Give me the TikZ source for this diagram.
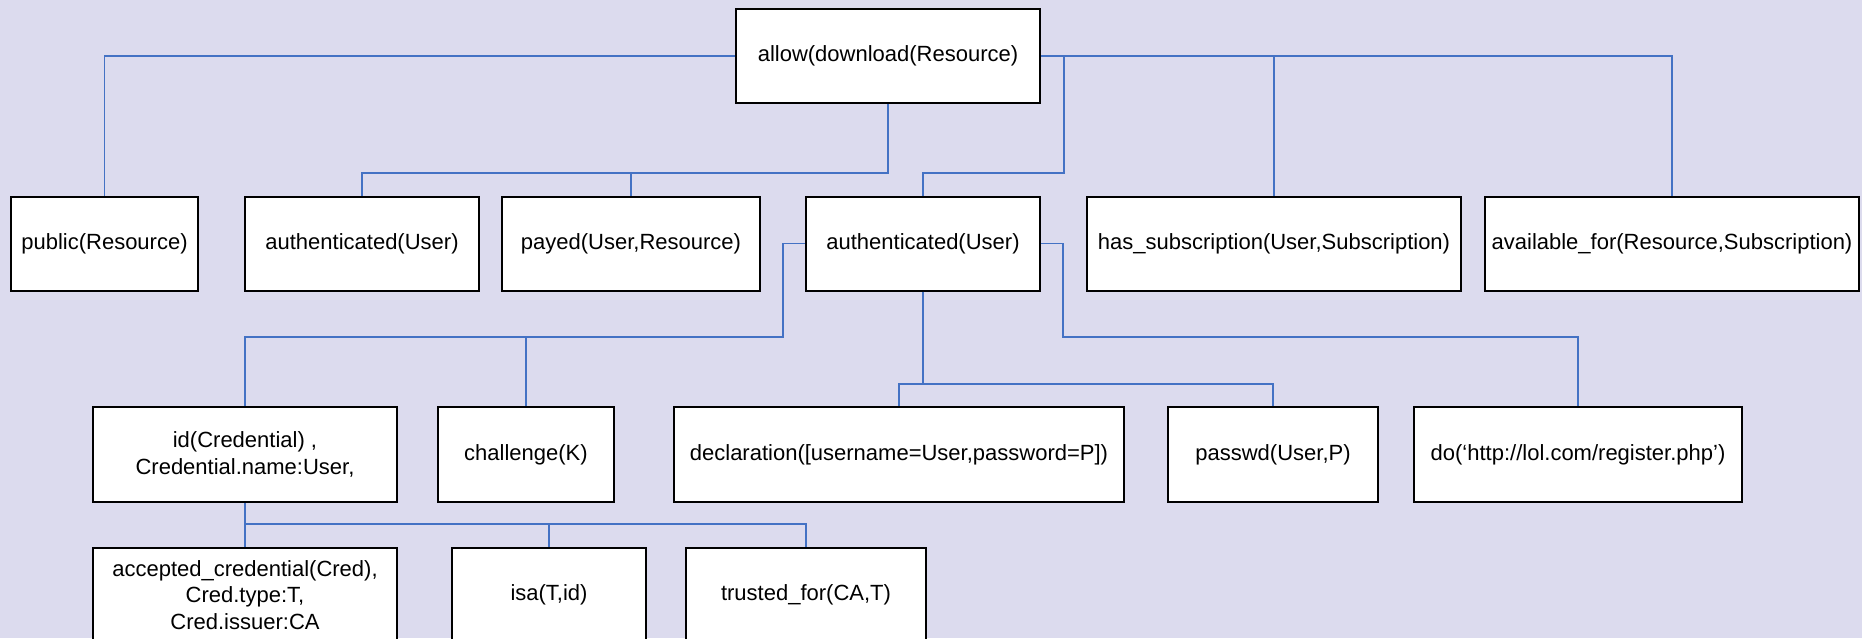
\documentclass[tikz,border=0pt]{standalone}
\usepackage{fontspec}
\setmainfont{Liberation Sans}
\definecolor{paper}{HTML}{DCDBEE}
\definecolor{wire}{HTML}{4472C4}

\begin{document}
\begin{tikzpicture}[x=0.5pt, y=-0.5pt]
  \tikzstyle{term}=[rectangle, draw, line width=1pt, fill=white, minimum height=47pt, inner sep=0pt, align=center, font=\fontsize{11}{13.25}\selectfont]
  \tikzstyle{link}=[draw=wire, line width=0.8pt]

  \useasboundingbox[fill=paper] (0,0) rectangle (1862,638);
  \clip (0,0) rectangle (1862,638);

  \node[term, minimum width=152pt] (allow) at (888, 56) {allow(download(Resource)};

  \node[term, minimum width=93.5pt] (pub)    at (104.5, 243.5) {public(Resource)};
  \node[term, minimum width=117pt]  (auth1)  at (362, 243.5)   {authenticated(User)};
  \node[term, minimum width=129pt]  (payed)  at (631, 243.5)   {payed(User,Resource)};
  \node[term, minimum width=117pt]  (auth2)  at (923, 243.5)   {authenticated(User)};
  \node[term, minimum width=187pt]  (hassub) at (1274, 243.5)  {has\_subscription(User,Subscription)};
  \node[term, minimum width=187pt]  (avail)  at (1672, 243.5)  {available\_for(Resource,Subscription)};

  \node[term, minimum width=152pt, minimum height=47.5pt] (cred) at (245, 454.5)  {id(Credential) ,\\Credential.name:User,};
  \node[term, minimum width=88pt,  minimum height=47.5pt] (chal) at (526, 454.5)  {challenge(K)};
  \node[term, minimum width=225pt, minimum height=47.5pt] (decl) at (899, 454.5)  {declaration([username=User,password=P])};
  \node[term, minimum width=105pt, minimum height=47.5pt] (pw)   at (1273, 454.5) {passwd(User,P)};
  \node[term, minimum width=164pt, minimum height=47.5pt] (reg)  at (1578, 454.5) {do(‘http://lol.com/register.php’)};

  \node[term, minimum width=152pt] (acc)   at (245, 595) {accepted\_credential(Cred),\\Cred.type:T,\\Cred.issuer:CA};
  \node[term, minimum width=97pt]  (isa)   at (549, 595) {isa(T,id)};
  \node[term, minimum width=120pt] (trust) at (806, 595) {trusted\_for(CA,T)};

  \coordinate (j1) at (888, 173);
  \coordinate (j2) at (1064, 173);
  \coordinate (j3) at (783, 337);
  \coordinate (j4) at (1063, 337);
  \coordinate (j5) at (923, 384);
  \coordinate (j6) at (245, 524);

  \draw[link] (allow.west) -| (pub.north);
  \draw[link] (allow.south) -- (j1) -| (auth1.north);
  \draw[link] (j1) -| (payed.north);
  \draw[link] (allow.east) -| (avail.north);
  \draw[link] (allow.east) -| (hassub.north);
  \draw[link] (allow.east) -| (j2) -| (auth2.north);
  \draw[link] (auth2.west) -| (j3) -| (cred.north);
  \draw[link] (j3) -| (chal.north);
  \draw[link] (auth2.east) -| (j4) -| (reg.north);
  \draw[link] (auth2.south) -- (j5) -| (decl.north);
  \draw[link] (j5) -| (pw.north);
  \draw[link] (cred.south) -- (j6) -- (acc.north);
  \draw[link] (j6) -| (isa.north);
  \draw[link] (j6) -| (trust.north);
\end{tikzpicture}
\end{document}
